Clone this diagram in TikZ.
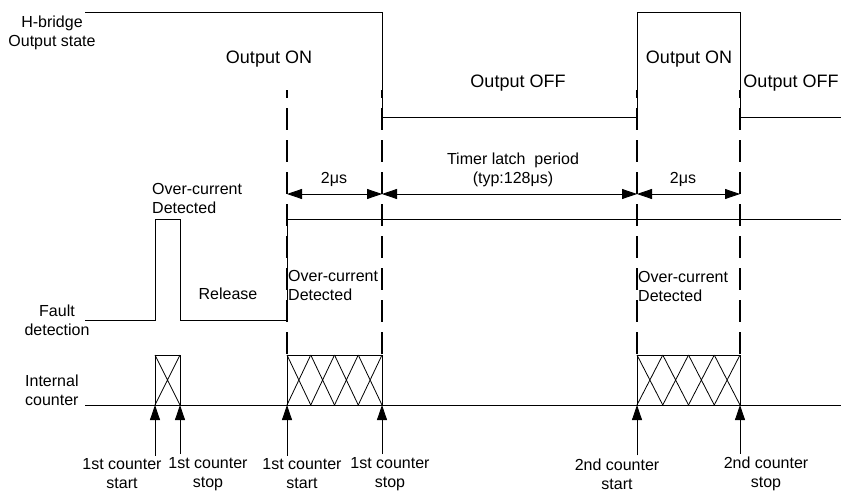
\documentclass[tikz,border=0pt]{standalone}
\usepackage{fontspec}
\setmainfont{Liberation Sans}
\usetikzlibrary{arrows.meta}
\tikzset{
  wave/.style={line width=0.8pt, line join=miter},
  cutline/.style={line width=2.5pt, dash pattern=on 22pt off 10pt, dash phase=14pt},
  span/.style={{Triangle[length=15pt,width=10pt]}-{Triangle[length=15pt,width=10pt]}, line width=0.8pt},
  evt/.style={-{Triangle[length=15pt,width=10pt]}, line width=0.8pt},
  lbl/.style={font=\fontsize{16}{19}\selectfont, align=center, inner sep=0pt},
  lbll/.style={lbl, align=left, anchor=west},
  state/.style={font=\fontsize{18}{21}\selectfont, inner sep=0pt}
}
\begin{document}
\begin{tikzpicture}[x=1pt, y=-1pt]
        \useasboundingbox (0,0) rectangle (841,498);
        % event times
        \coordinate (k1) at (155,405);
        \coordinate (k2) at (180,405);
        \coordinate (k3) at (287,405);
        \coordinate (k4) at (382,405);
        \coordinate (k5) at (637,405);
        \coordinate (k6) at (740,405);
        % signals
        \draw[wave] (85,12) -- (382,12) -- (382,117) -- (637,117) -- (637,12) -- (740,12) -- (740,117) -- (841,117);
        \draw[wave] (85,320) -- (155,320) -- (155,219) -- (180,219) -- (180,320) -- (287,320) -- (287,219) -- (841,219);
        \draw[wave] (85,405) -- (841,405);
        % counter boxes
        \draw[wave] (155,355) rectangle (180,405);
        \draw[wave] (155,355) -- (180,405) (155,405) -- (180,355);
        \draw[wave] (287,355) rectangle (382,405);
        \foreach \i in {0,...,3}
          \draw[wave] ({287+\i*23.75},355) -- ({287+(\i+1)*23.75},405) ({287+\i*23.75},405) -- ({287+(\i+1)*23.75},355);
        \draw[wave] (637,355) rectangle (740,405);
        \foreach \i in {0,...,3}
          \draw[wave] ({637+\i*25.75},355) -- ({637+(\i+1)*25.75},405) ({637+\i*25.75},405) -- ({637+(\i+1)*25.75},355);
        % marker lines
        \foreach \x in {287,382,637,740}
          \draw[cutline] (\x,90) -- (\x,355);
        \draw[span] (287,194) -- (382,194);
        \draw[span] (382,194) -- (637,194);
        \draw[span] (637,194) -- (740,194);
        % labels
        \node[lbl] (hb) at (52,33) {H-bridge\\Output state};
        \node[state] (on1) at (269,59) {Output ON};
        \node[state] (off1) at (518,83) {Output OFF};
        \node[state] (on2) at (689,59) {Output ON};
        \node[state] (off2) at (791,83) {Output OFF};
        \node[lbl] (w1) at (334,179) {2μs};
        \node[lbl] (latch) at (513,169.5) {Timer latch~ period\\(typ:128μs)};
        \node[lbl] (w2) at (683,179) {2μs};
        \node[lbll] (oc0) at (152,198.5) {Over-current\\Detected};
        \node[lbl] (rel) at (228,294) {Release};
        \node[lbl] (fd) at (57,320.5) {Fault\\detection};
        \node[lbll] (oc1) at (288,285) {Over-current\\Detected};
        \node[lbll] (oc2) at (638,286) {Over-current\\Detected};
        \node[lbll] (ic) at (25,390) {Internal\\counter};
        \node[lbl] (s1) at (122,474) {1st counter\\start};
        \node[lbl] (s2) at (208,474) {1st counter\\stop};
        \node[lbl] (s3) at (302,474) {1st counter\\start};
        \node[lbl] (s4) at (390,474) {1st counter\\stop};
        \node[lbl] (s5) at (617,474) {2nd counter\\start};
        \node[lbl] (s6) at (766,474) {2nd counter\\stop};
        % event arrows
        \foreach \n in {1,...,6}
          \draw[evt] ([yshift=3pt]s\n.north -| k\n) -- (k\n);
      \end{tikzpicture}
\end{document}
